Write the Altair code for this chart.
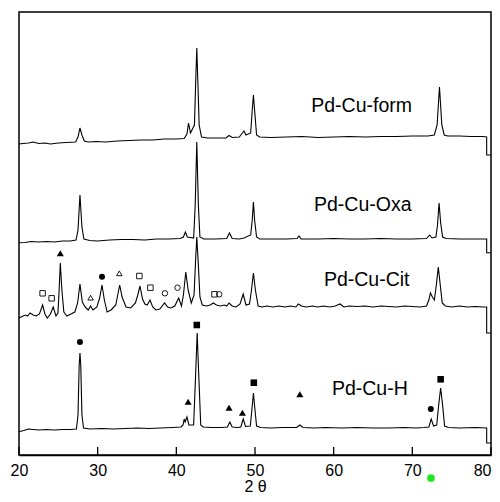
import altair as alt
import pandas as pd

# ---- traces: 2theta positions and intensities (arbitrary units, stacked) ----
form_tt = [20, 20.5, 21.2, 21.8, 22.5, 23.3, 24, 25, 26, 27.2, 27.5, 27.75, 28.0, 28.3, 28.8, 29.8, 31, 32.5, 34, 35.5,
           37, 38.5, 40, 41, 41.35, 41.55, 41.8, 42.3, 42.45, 42.6, 42.75, 42.9, 43.2, 44, 45, 46.3, 46.7, 47.1, 48,
           48.4, 48.6, 48.85, 49.45, 49.65, 49.8, 49.95, 50.2, 50.6, 52, 54, 56, 58, 60, 62, 64, 66, 68, 70, 72, 72.8,
           73.15, 73.45, 73.75, 74.05, 74.5, 76, 77.5, 79, 79.45, 79.45, 80]
form_I = [311, 311.5, 312, 313, 311.5, 312, 311, 312, 312.5, 313, 318, 327, 320, 314, 313, 313.5, 313, 314, 314.5, 315,
          315, 316, 316, 316.5, 321, 332, 322, 330, 370, 407, 370, 330, 318, 317, 317, 317, 319.5, 317.5, 318,
          322, 324, 320, 322, 345, 360, 345, 320, 318, 317.5, 318, 318.5, 317.5, 318, 318.5, 318, 318.5, 318.5, 319, 319, 320,
          330, 368, 330, 320, 319, 319, 318.5, 318.5, 318, 300, 300]

oxa_tt = [20, 20.8, 21.5, 22.5, 23.5, 24.5, 25.5, 26.5, 27.25, 27.5, 27.75, 28.0, 28.25, 29, 30, 31.5, 33, 34.5, 36,
          37.5, 39, 40.5, 40.9, 41.15, 41.4, 42.2, 42.4, 42.6, 42.8, 43.0, 43.5, 45, 46.4, 46.75, 47.1, 48, 48.6, 49.45,
          49.65, 49.8, 49.95, 50.2, 50.6, 52, 54, 55.35, 55.6, 55.85, 58, 60, 62, 64, 66, 68, 70, 71.8, 72.2, 72.5, 73.0,
          73.2, 73.4, 73.6, 73.85, 74.3, 76, 78, 79.45, 79.45, 80]
oxa_I = [212.3, 212.5, 213.5, 213, 213.5, 213, 214, 214, 215, 225, 260, 228, 216, 214.5, 214, 215, 215.5, 215.5, 215,
         216, 216, 216.5, 218, 223, 218, 217, 250, 313, 250, 218, 216, 216, 216.5, 222, 216.5, 216, 217, 220,
         235, 253, 235, 218, 216, 216, 216, 216.5, 219, 216, 216, 216.5, 216, 216, 216.5, 216, 216, 216.5, 220, 217, 218,
         230, 252, 232, 218, 216.5, 216, 216, 216, 202.3, 202.3]

cit_tt = [20, 20.4, 20.8, 21.1, 21.4, 21.8, 22.2, 22.6, 23.0, 23.3, 23.6, 24.0, 24.35, 24.7, 24.95, 25.1, 25.25, 25.45,
          25.7, 26.1, 26.6, 27.1, 27.45, 27.75, 28.05, 28.4, 28.8, 29.1, 29.4, 29.9, 30.25, 30.55, 30.85, 31.2, 31.7,
          32.3, 32.55, 32.8, 33.1, 33.6, 34.2, 34.8, 35.1, 35.38, 35.7, 36.0, 36.3, 36.65, 37.0, 37.4, 37.9, 38.5, 38.9,
          39.3, 39.8, 40.3, 40.65, 40.9, 41.2, 41.5, 41.9, 42.25, 42.45, 42.6, 42.8, 43.0, 43.3, 43.8, 44.3, 44.7, 45.1,
          45.6, 46.1, 46.4, 46.7, 47.1, 47.6, 48.1, 48.5, 48.85, 49.3, 49.55, 49.8, 50.05, 50.4, 50.9, 51.5, 52.3, 53,
          53.8, 54.5, 55.2, 55.5, 55.9, 56.5, 57.3, 58, 58.7, 59.5, 60.2, 60.8, 61.3, 62, 63, 64, 65, 66, 67, 68, 69, 70,
          71, 71.8, 72.1, 72.3, 72.55, 72.8, 73.05, 73.3, 73.55, 73.8, 74.2, 75, 76, 77, 78, 79, 79.45, 79.45, 80]
cit_I = [137, 138.5, 140, 139, 142, 140, 139, 141, 150, 141, 137, 141, 148, 139, 142, 165, 192, 165,
         143, 139, 141, 143, 152, 171, 153, 148, 145, 149, 145, 148, 157, 170, 155, 143, 145,
         150, 160, 170, 158, 148, 147, 152, 160, 169, 156, 151, 150, 155, 148, 145, 146, 152, 148,
         147, 149, 157, 149, 160, 183, 165, 152, 160, 195, 218, 190, 158, 150, 149, 150, 152, 150,
         149, 150, 149, 152, 149, 148, 151, 161, 150, 151, 165, 182, 165, 149, 148, 149, 148, 149,
         148, 149, 148, 151, 149, 148, 149, 148, 149, 148, 149, 151, 148, 149, 148.5, 149, 148, 149, 148.5, 148, 149, 148.5,
         148, 149, 155, 162, 158, 155, 170, 188, 170, 152, 149, 148, 149, 148, 148.5, 148, 148, 122, 122]

h_tt = [20, 20.6, 21.2, 21.8, 22.5, 23.5, 24.5, 25.5, 26.5, 27.3, 27.5, 27.65, 27.75, 27.85, 28.0, 28.2, 29, 30.5, 32,
        33.5, 35, 36.5, 38, 39.5, 40.6, 40.85, 41.0, 41.12, 41.35, 41.6, 42.2, 42.45, 42.65, 42.85, 43.1, 43.4, 44.5,
        45.8, 46.5, 46.8, 47.1, 47.8, 48.2, 48.5, 48.8, 49.4, 49.6, 49.8, 50.0, 50.2, 50.7, 52, 53.5, 55.3, 55.7, 56.1,
        57.5, 59, 61, 63, 65, 67, 69, 70.5, 71.5, 72.1, 72.4, 72.7, 73.1, 73.35, 73.6, 73.85, 74.1, 74.6, 76, 78,
        79.45, 79.45, 80]
h_I = [23.3, 24.5, 26, 25.5, 25, 25.5, 25, 25.5, 25.5, 26, 40, 90, 102, 90, 40, 27, 26, 26.5, 26,
       26.5, 27, 26.5, 27, 27.5, 28, 30, 36, 33, 38, 30, 30, 80, 122, 80, 30, 28, 27.5,
       27.5, 28, 33, 28, 27.5, 28, 36, 28.5, 29, 45, 62, 45, 29, 27.5, 27, 27.5, 27.5, 30, 27.5,
       27, 27.5, 27, 27.5, 27, 27, 27.5, 27, 27.5, 28, 36, 29, 30, 50, 67, 50, 29, 27.5, 27, 27.5,
       27, 12, 12]

# ---- sample labels ----
label_text = ["Pd-Cu-form", "Pd-Cu-Oxa", "Pd-Cu-Cit", "Pd-Cu-H"]
label_tt = [63.55, 63.7, 64.2, 64.6]
label_I = [349, 250, 175, 65.7]

# ---- phase markers ----
mk_tt = [25.25, 23.0, 24.15, 29.1, 30.55, 32.75, 35.3, 36.7, 38.55, 40.15, 44.85, 45.45,
         27.75, 42.6, 41.5, 46.7, 48.4, 49.85, 55.7, 72.35, 73.6]
mk_I = [201.7, 161.7, 156.7, 157.3, 178.3, 181.7, 179, 167.3, 161.7, 167.3, 160.7, 160.7,
        113, 130, 53.3, 47.3, 42.3, 72.3, 60.7, 46, 75.7]
mk_shape = ["triangle", "square", "square", "triangle", "circle", "triangle", "square", "square", "circle", "circle",
            "square", "circle",
            "circle", "square", "triangle", "triangle", "triangle", "square", "triangle", "circle", "square"]
mk_filled = [True, False, False, False, True, False, False, False, False, False, False, False,
             True, True, True, True, True, True, True, True, True]

tick_vals = [20, 30, 40, 50, 60, 70, 80]

# stray green dot below the axis in the original picture
dot_tt = [72.37]
dot_I = [-23]

rows = []
for name, xs, ys in [("form", form_tt, form_I), ("oxa", oxa_tt, oxa_I), ("cit", cit_tt, cit_I), ("h", h_tt, h_I)]:
    for i, (a, b) in enumerate(zip(xs, ys)):
        rows.append({"sample": name, "tt": a, "I": b, "i": i})
traces = pd.DataFrame(rows)

markers = pd.DataFrame({"tt": mk_tt, "I": mk_I, "shape": mk_shape, "filled": mk_filled})
labels = pd.DataFrame({"tt": label_tt, "I": label_I, "text": label_text})
ticks = pd.DataFrame({"tt": tick_vals})
dot = pd.DataFrame({"tt": dot_tt, "I": dot_I})

xscale = alt.Scale(domain=[20, 80], nice=False, zero=False)
yscale = alt.Scale(domain=[0, 443], nice=False, zero=False)
shape_scale = alt.Scale(domain=["triangle", "square", "circle"], range=["triangle-up", "square", "circle"])
size_scale = alt.Scale(domain=["triangle", "square", "circle"], range=[50, 36, 38])
FONT = "Liberation Sans"

xaxis = alt.Axis(values=tick_vals, title="2 θ", grid=False, tickSize=0, labelPadding=7, labelFontSize=16,
                 labelFont=FONT, labelColor="black", titleFont=FONT, titleFontSize=16, titleFontWeight="normal",
                 titleColor="black", titlePadding=0, domainColor="black", domainWidth=1.5, labelFlush=False,
                 labelAlign=alt.ExprRef("datum.value == 80 ? 'right' : 'center'"))

lines = alt.Chart(traces).mark_line(color="black", strokeWidth=1.1).encode(
    x=alt.X("tt:Q", scale=xscale, axis=xaxis),
    y=alt.Y("I:Q", scale=yscale, axis=None),
    detail="sample:N",
    order="i:Q",
)

filled = alt.Chart(markers).transform_filter("datum.filled").mark_point(
    filled=True, color="black", opacity=1).encode(
    x=alt.X("tt:Q", scale=xscale),
    y=alt.Y("I:Q", scale=yscale),
    shape=alt.Shape("shape:N", scale=shape_scale, legend=None),
    size=alt.Size("shape:N", scale=size_scale, legend=None),
)
opened = alt.Chart(markers).transform_filter("!datum.filled").mark_point(
    filled=False, color="black", opacity=1, strokeWidth=0.9).encode(
    x=alt.X("tt:Q", scale=xscale),
    y=alt.Y("I:Q", scale=yscale),
    shape=alt.Shape("shape:N", scale=shape_scale, legend=None),
    size=alt.value(30),
)

texts = alt.Chart(labels).mark_text(font=FONT, fontSize=19.5, color="black", align="center", baseline="middle").encode(
    x=alt.X("tt:Q", scale=xscale),
    y=alt.Y("I:Q", scale=yscale),
    text="text:N",
)

tick_marks = alt.Chart(ticks).mark_rule(color="black", strokeWidth=1.3).encode(
    x=alt.X("tt:Q", scale=xscale),
    y=alt.datum(0, scale=yscale),
    y2=alt.datum(8),
)

green = alt.Chart(dot).mark_circle(color="#22e822", opacity=1, size=60).encode(
    x=alt.X("tt:Q", scale=xscale),
    y=alt.Y("I:Q", scale=yscale),
)

chart = alt.layer(lines, tick_marks, filled, opened, texts, green).properties(
    width=472, height=443,
    autosize=alt.AutoSizeParams(type="none"),
    padding={"left": 11, "top": 4, "right": 1, "bottom": 39},
    background="white",
).configure_view(stroke="black", strokeWidth=1.5)

chart.save("out.html", embed_options={"renderer": "svg", "actions": False})
